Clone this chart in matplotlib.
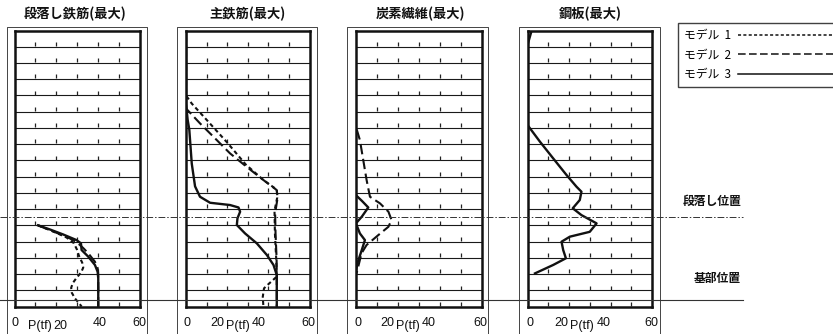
import matplotlib
matplotlib.use('Agg')
import matplotlib.pyplot as plt
from matplotlib.lines import Line2D
from matplotlib.transforms import blended_transform_factory, offset_copy

plt.rcParams['font.family'] = ['Noto Sans CJK JP', 'DejaVu Sans']

W, H = 833, 334

# ---------------- data ----------------
titles = ['段落し鉄筋(最大)', '主鉄筋(最大)', '炭素繊維(最大)', '鋼板(最大)']
model_names = ['モデル  1', 'モデル  2', 'モデル  3']
x_ticks = [0, 20, 40, 60]
x_unit = 'P(tf)'
level_names = ['段落し位置', '基部位置']
level_heights = [5.53, 0.4]          # height in row units (17 rows)

# panel 1 : 段落し鉄筋
dan_m1_p = [11.3, 19.0, 25.0, 28.5, 30.0, 31.0, 32.5, 33.0, 32.0, 30.0, 28.0, 27.2, 27.5, 29.0, 31.0, 32.2]
dan_m1_h = [5.0, 4.6, 4.25, 3.9, 3.5, 3.1, 2.7, 2.4, 2.1, 1.8, 1.45, 1.15, 0.85, 0.5, 0.2, 0.0]
dan_m2_p = [11.3, 18.0, 25.0, 30.0, 33.0, 35.4, 38.6, 39.9, 40.2, 40.2]
dan_m2_h = [5.0, 4.65, 4.3, 3.95, 3.6, 3.28, 2.76, 2.37, 2.0, 0.0]
dan_m3_p = [11.3, 16.9, 23.3, 29.8, 31.9, 32.2, 35.4, 38.6, 39.9, 40.2, 40.2]
dan_m3_h = [5.0, 4.75, 4.44, 4.09, 3.89, 3.48, 3.07, 2.56, 2.14, 1.73, 0.0]

# panel 2 : 主鉄筋
shu_m1_p = [0, 0, 2.8, 10.0, 20.0, 29.0, 37.6, 44.1, 44.3, 43.0, 43.2, 43.8, 44.1, 40.5, 37.9, 37.3, 37.6]
shu_m1_h = [17, 13.0, 12.5, 11.5, 10.1, 8.75, 7.79, 7.2, 6.7, 5.9, 4.5, 3.0, 1.84, 1.43, 1.12, 0.6, 0.0]
shu_m2_p = [0, 0, 6.8, 13.3, 21.4, 29.5, 37.6, 44.1, 44.5, 43.3, 43.5, 44.0, 44.1, 44.1]
shu_m2_h = [17, 12.2, 11.28, 10.46, 9.43, 8.6, 7.79, 7.17, 6.7, 5.74, 4.5, 3.0, 1.94, 0.0]
shu_m3_p = [0, 0, 0.8, 1.6, 2.8, 4.4, 6.8, 11.7, 21.4, 25.5, 26.3, 25.0, 24.7, 28.7, 34.4, 39.3, 42.5, 44.1, 44.1]
shu_m3_h = [17, 12.5, 11.5, 10.9, 8.8, 7.4, 6.76, 6.39, 6.25, 6.1, 5.84, 5.43, 5.02, 4.5, 3.89, 3.17, 2.56, 1.94, 0.0]

# panel 3 : 炭素繊維
tan_m2_p = [0.5, 2.0, 3.6, 5.2, 6.8, 11.6, 15.6, 17.1, 15.6, 10.8, 5.2, 2.8, 1.2, 0.4]
tan_m2_h = [10.9, 10.25, 9.02, 7.79, 6.76, 6.35, 5.84, 5.33, 4.91, 4.4, 3.79, 3.28, 2.45, 2.04]
tan_m3_p = [0.0, 3.0, 6.0, 2.9, 0.1, 2.0, 4.4, 2.9, 0.8, 0.1]
tan_m3_h = [6.87, 6.5, 6.1, 5.53, 5.12, 4.5, 4.09, 3.48, 2.66, 2.14]

# panel 4 : 鋼板
kou_m3_p = [2.0, 0.0, 0.0, 6.0, 12.4, 18.8, 23.6, 26.0, 25.2, 21.8, 26.0, 33.3, 30.0, 20.4, 16.4, 17.2, 18.5, 12.4, 3.6]
kou_m3_h = [17, 16.1, 11.18, 10.15, 9.12, 8.1, 7.38, 7.07, 6.56, 6.05, 5.63, 5.12, 4.6, 4.3, 3.99, 3.48, 2.97, 2.56, 2.04]

panels = [
    [(dan_m1_p, dan_m1_h, 0), (dan_m2_p, dan_m2_h, 1), (dan_m3_p, dan_m3_h, 2)],
    [(shu_m1_p, shu_m1_h, 0), (shu_m2_p, shu_m2_h, 1), (shu_m3_p, shu_m3_h, 2)],
    [(tan_m2_p, tan_m2_h, 1), (tan_m3_p, tan_m3_h, 2)],
    [(kou_m3_p, kou_m3_h, 2)],
]

# ---------------- styling / layout ----------------
styles = [dict(ls=(0, (2.0, 1.5)), lw=1.5),
          dict(ls=(0, (5, 2.2)), lw=1.5),
          dict(ls='-', lw=1.7)]
n_rows = 17
top_px, bot_px = 30.5, 306.5
panel_px = [(14.5, 139.5), (186, 309.5), (355.7, 481.5), (527.5, 652)]
frame_px = [(7.3, 146.7), (177.3, 316.7), (347.3, 487.7), (519, 660)]
title_x_px = [75.5, 247, 420, 590]
label_x = [[0.3, 22, 41, 60], [0.5, 15.3, 35.5, 59.5], [0.9, 15.1, 35.0, 59.7], [1.0, 16.1, 36.9, 59.5]]
label_dy = [[0, 3, 0, 0], [0, 0, 0, 0], [0, 0, 0, 0], [0, 0, 0, 0]]
unit_x = [12.2, 25.0, 24.7, 26.1]
ink = '#111111'

fig = plt.figure(figsize=(W / 100, H / 100), dpi=100)

axes = []
handles = [None, None, None]
for i, (l, r) in enumerate(panel_px):
    ax = fig.add_axes([l / W, 1 - bot_px / H, (r - l) / W, (bot_px - top_px) / H])
    axes.append(ax)
    ax.set_xlim(0, 60)
    ax.set_ylim(0, n_rows)
    ax.set_xticks([])
    ax.set_yticks([])
    for s in ax.spines.values():
        s.set_linewidth(1.8)
        s.set_color(ink)
    for k in range(1, n_rows):
        ax.axhline(k, color='#1a1a1a', lw=0.8, zorder=1)
    for xv in range(10, 60, 10):
        ax.plot([xv] * n_rows, [k + 0.17 for k in range(n_rows)], ls='none',
                marker='|', ms=2.2, mew=0.9, color='#222222', zorder=1)
    for p, h, m in panels[i]:
        ln, = ax.plot(p, h, color=ink, zorder=3, **styles[m])
        if handles[m] is None:
            handles[m] = ln
    # tick labels
    for xv, lab, dy in zip(label_x[i], x_ticks, label_dy[i]):
        ax.annotate(str(lab), xy=(xv, 0), xycoords=('data', 'axes fraction'),
                    xytext=(0, -16.5 * 0.72 - dy * 0.72), textcoords='offset points',
                    ha='center', va='center', fontsize=9, family=['Liberation Sans'],
                    color=ink, annotation_clip=False)
    ax.annotate(x_unit, xy=(unit_x[i], 0), xycoords=('data', 'axes fraction'),
                xytext=(0, -19 * 0.72), textcoords='offset points',
                ha='center', va='center', fontsize=9, family=['Liberation Sans'],
                color=ink, annotation_clip=False)
    fig.text(title_x_px[i] / W, 1 - 14 / H, titles[i], ha='center', va='center',
             fontsize=9.5, fontweight='bold', color=ink)

# outer thin frames
for (l, r) in frame_px:
    fig.add_artist(Line2D([l / W, l / W, r / W, r / W], [0, 1 - 26.7 / H, 1 - 26.7 / H, 0],
                          transform=fig.transFigure, color='#444444', lw=0.7))

# level lines across the figure
tr = blended_transform_factory(fig.transFigure, axes[0].transData)
fig.add_artist(Line2D([0, 743 / W], [level_heights[0]] * 2, transform=tr,
                      color='#333333', lw=0.7, ls=(0, (7, 2, 1.5, 2)), zorder=5))
fig.add_artist(Line2D([0, 743 / W], [level_heights[1]] * 2, transform=tr,
                      color='#333333', lw=0.8, ls='-', zorder=5))
for name, hv, dy in zip(level_names, level_heights, [15, 22]):
    fig.text(741 / W, hv, name, ha='right', va='center',
             transform=offset_copy(tr, fig=fig, x=0, y=dy * 0.72, units='points'),
             fontsize=8.5, fontweight='bold', color=ink)

# legend
leg = fig.legend(handles, model_names, loc='upper left',
                 bbox_to_anchor=(678 / W, 1 - 23 / H), markerfirst=False,
                 handlelength=9, handletextpad=0.6, borderpad=0.5, labelspacing=0.55,
                 fontsize=8.5, frameon=True, fancybox=False, borderaxespad=0)
leg.get_frame().set_edgecolor(ink)
leg.get_frame().set_linewidth(1.0)
for lh in leg.get_lines():
    lh.set_linewidth(1.1)

fig.savefig('out.png', dpi=100, facecolor='white')
